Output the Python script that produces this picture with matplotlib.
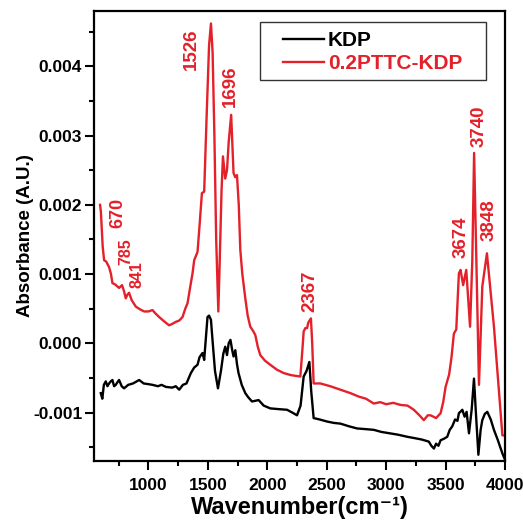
import matplotlib
matplotlib.use("Agg")
import matplotlib.pyplot as plt
from matplotlib.patches import Rectangle
from matplotlib.ticker import MultipleLocator, FormatStrFormatter

plt.rcParams['font.family'] = ['Liberation Sans', 'DejaVu Sans']
plt.rcParams['font.weight'] = 'bold'
plt.rcParams['axes.unicode_minus'] = False

# FTIR absorbance spectra
kdp_x = [599, 612, 625, 641, 655, 669, 683, 697, 711, 725, 740, 753, 775, 795,
         830, 870, 922, 960, 1000, 1034, 1080, 1110, 1147, 1200, 1230, 1259,
         1290, 1320, 1357, 1385, 1413, 1430, 1455, 1469, 1497, 1510, 1526,
         1539, 1560, 1585, 1610, 1630, 1646, 1661, 1675, 1690, 1705, 1716,
         1731, 1745, 1758, 1785, 1815, 1840, 1871, 1900, 1927, 1970, 2025,
         2090, 2166, 2210, 2250, 2280, 2306, 2330, 2354, 2370, 2390, 2440,
         2503, 2560, 2615, 2690, 2756, 2830, 2896, 2960, 3030, 3100, 3177,
         3240, 3300, 3359, 3380, 3402, 3420, 3440, 3458, 3485, 3514, 3535,
         3556, 3580, 3600, 3612, 3630, 3641, 3660, 3677, 3697, 3720, 3739,
         3755, 3776, 3795, 3809, 3830, 3851, 3880, 3907, 3940, 3978, 3995]
kdp_y = [-0.00072, -0.00080, -0.00060, -0.00055, -0.00062, -0.00058, -0.00055,
         -0.00053, -0.00062, -0.00060, -0.00056, -0.00053, -0.00062, -0.00065,
         -0.00060, -0.00058, -0.00053, -0.00058, -0.00059, -0.00060, -0.00062,
         -0.00060, -0.00063, -0.00064, -0.00062, -0.00067, -0.00060, -0.00058,
         -0.00043, -0.00035, -0.00031, -0.00020, -0.00014, -0.00024, 0.00038,
         0.00040, 0.00034, 0.00005, -0.00040, -0.00065, -0.00040, -0.00015,
         -0.00005, -0.00017, 0.00000, 0.00005, -0.00010, -0.00019, -0.00010,
         -0.00030, -0.00043, -0.00060, -0.00072, -0.00078, -0.00084, -0.00083,
         -0.00082, -0.00090, -0.00094, -0.00095, -0.00096, -0.00100, -0.00104,
         -0.00090, -0.00048, -0.00040, -0.00027, -0.00070, -0.00108, -0.00110,
         -0.00113, -0.00115, -0.00116, -0.00120, -0.00123, -0.00124, -0.00125,
         -0.00128, -0.00130, -0.00132, -0.00135, -0.00137, -0.00139, -0.00142,
         -0.00148, -0.00152, -0.00145, -0.00148, -0.00140, -0.00138, -0.00135,
         -0.00125, -0.00120, -0.00110, -0.00112, -0.00101, -0.00098, -0.00096,
         -0.00106, -0.00099, -0.00130, -0.00095, -0.00051, -0.00100, -0.00161,
         -0.00125, -0.00111, -0.00102, -0.00099, -0.00110, -0.00125, -0.00140,
         -0.00159, -0.00166]

pttc_x = [593, 600, 615, 627, 645, 669, 685, 697, 720, 753, 778, 795, 809, 822,
          837, 860, 894, 930, 964, 1000, 1034, 1060, 1090, 1130, 1174, 1200,
          1231, 1260, 1287, 1310, 1329, 1350, 1371, 1385, 1413, 1430, 1450,
          1469, 1490, 1510, 1526, 1540, 1555, 1570, 1588, 1600, 1615, 1627,
          1646, 1661, 1675, 1696, 1716, 1730, 1745, 1760, 1773, 1790, 1815,
          1835, 1857, 1880, 1899, 1920, 1941, 1980, 2025, 2080, 2138, 2200,
          2278, 2295, 2306, 2320, 2335, 2345, 2367, 2378, 2390, 2447, 2530,
          2615, 2700, 2770, 2830, 2896, 2950, 3000, 3060, 3121, 3180, 3233,
          3280, 3317, 3350, 3374, 3420, 3458, 3480, 3500, 3530, 3550, 3570,
          3590, 3612, 3626, 3648, 3674, 3706, 3725, 3740, 3781, 3809, 3848,
          3907, 3978, 3992]
pttc_y = [0.00200, 0.00190, 0.00140, 0.00120, 0.00118, 0.00110, 0.00100,
          0.00087, 0.00085, 0.00080, 0.00084, 0.00075, 0.00065, 0.00070,
          0.00073, 0.00062, 0.00053, 0.00049, 0.00046, 0.00046, 0.00048,
          0.00043, 0.00038, 0.00032, 0.00026, 0.00028, 0.00031, 0.00033,
          0.00038, 0.00050, 0.00058, 0.00080, 0.00101, 0.00120, 0.00132,
          0.00170, 0.00217, 0.00219, 0.00330, 0.00430, 0.00462, 0.00420,
          0.00300, 0.00150, 0.00046, 0.00120, 0.00220, 0.00270, 0.00238,
          0.00250, 0.00290, 0.00330, 0.00246, 0.00240, 0.00243, 0.00200,
          0.00135, 0.00100, 0.00065, 0.00040, 0.00024, 0.00018, 0.00012,
          -0.00005, -0.00017, -0.00025, -0.00031, -0.00038, -0.00043,
          -0.00046, -0.00048, -0.00010, 0.00017, 0.00022, 0.00022, 0.00030,
          0.00036, 0.00000, -0.00058, -0.00058, -0.00062, -0.00067, -0.00072,
          -0.00077, -0.00080, -0.00087, -0.00085, -0.00088, -0.00086,
          -0.00089, -0.00090, -0.00096, -0.00104, -0.00111, -0.00104,
          -0.00104, -0.00108, -0.00101, -0.00085, -0.00063, -0.00045,
          -0.00020, 0.00014, 0.00020, 0.00101, 0.00106, 0.00084, 0.00106,
          0.00024, 0.00120, 0.00275, -0.00060, 0.00082, 0.00130, 0.00024,
          -0.00133, -0.00133]

# Peak annotations: text, x position, y position (data units), font size
peak_labels = ["670", "785", "841", "1526", "1696", "2367", "3674", "3740", "3848"]
peak_label_x = [747, 812, 905, 1364, 1693, 2355, 3633, 3781, 3865]
peak_label_y = [0.00188, 0.00133, 0.00099, 0.00425, 0.00372, 0.00075,
                0.00153, 0.00313, 0.00178]
peak_label_size = [13, 11.5, 11.5, 13.5, 13.5, 13.5, 13.5, 13.5, 13.5]

x_ticks = [1000, 1500, 2000, 2500, 3000, 3500, 4000]
y_ticks = [-0.001, 0.000, 0.001, 0.002, 0.003, 0.004]

RED = '#e4202a'
W, H = 523, 526

fig = plt.figure(figsize=(W / 100, H / 100), dpi=100)
ax = fig.add_axes([94 / W, 1 - 461 / H, 411 / W, 450 / H])

ax.plot(kdp_x, kdp_y, color='black', lw=1.7, label='KDP')
ax.plot(pttc_x, pttc_y, color=RED, lw=1.7, label='0.2PTTC-KDP')

for txt, px, py, fs in zip(peak_labels, peak_label_x, peak_label_y, peak_label_size):
    ax.text(px, py, txt, rotation=90, ha='center', va='center', color=RED,
            fontsize=fs, fontweight='bold')

ax.set_xlim(542, 4000)
ax.set_ylim(-0.0017, 0.0048)
ax.set_xticks(x_ticks)
ax.set_yticks(y_ticks)
ax.xaxis.set_minor_locator(MultipleLocator(250))
ax.yaxis.set_minor_locator(MultipleLocator(0.0005))
ax.yaxis.set_major_formatter(FormatStrFormatter('%.3f'))

ax.tick_params(which='major', direction='out', length=6.5, width=1.5,
               labelsize=12.5, top=False, right=False)
ax.tick_params(which='minor', direction='out', length=3.5, width=1.5,
               top=False, right=False)
ax.tick_params(axis='x', which='major', pad=6)
ax.tick_params(axis='y', which='major', pad=2)
for sp in ax.spines.values():
    sp.set_linewidth(1.6)

ax.set_xlabel('Wavenumber(cm\u207b\u00b9)', fontsize=17,
              fontweight='bold', labelpad=2)
ax.set_ylabel('Absorbance (A.U.)', fontsize=13.5, fontweight='bold', labelpad=-1)

# Legend: frameless entries inside a separately drawn box
frame = Rectangle((0.4039, 0.8467), 0.5499, 0.1289, transform=ax.transAxes,
                  facecolor='white', edgecolor='#333333', lw=1.0, zorder=4)
ax.add_patch(frame)
leg = ax.legend(loc='upper left', bbox_to_anchor=(0.46, 0.955),
                borderaxespad=0, borderpad=0, frameon=False, fontsize=15,
                handlelength=1.95, handletextpad=0.2, labelspacing=0.18)
leg.set_zorder(5)
for t, c in zip(leg.get_texts(), ['black', RED]):
    t.set_color(c)
    t.set_fontweight('bold')

fig.savefig('out.png', dpi=100)
